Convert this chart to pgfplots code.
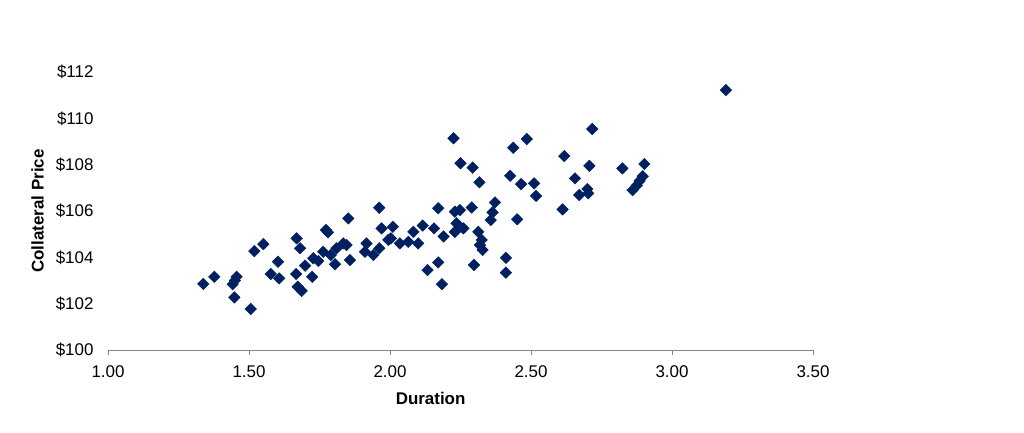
\documentclass[border=0pt]{standalone}
\usepackage{pgfplots}
\pgfplotsset{compat=1.18}
\usepackage{fontspec}
\setmainfont{Liberation Sans}
\definecolor{navy}{RGB}{0,32,96}
\definecolor{axgray}{RGB}{134,134,134}
\begin{document}
\begin{tikzpicture}[x=1bp,y=1bp]
\path[use as bounding box] (0,0) rectangle (1024,432);
\begin{axis}[
  at={(108bp,82bp)}, anchor=south west,
  scale only axis, width=705bp, height=278bp,
  xmin=1, xmax=3.5, ymin=100, ymax=112,
  xtick={1,1.5,...,3.5}, ytick={100,102,...,112},
  axis lines*=left,
  x axis line style={axgray, line width=0.8bp},
  y axis line style={draw=none},
  ytick style={draw=none},
  xtick style={axgray, line width=0.8bp},
  tick align=outside, major tick length=5bp,
  xticklabel style={/pgf/number format/fixed, /pgf/number format/fixed zerofill, /pgf/number format/precision=2, yshift=-7bp},
  yticklabel={\$\pgfmathprintnumber{\tick}},
  /pgf/number format/assume math mode=true,
  ticklabel style={font=\fontsize{17}{20}\selectfont},
  yticklabel style={xshift=-6bp},
  xlabel={\textbf{Duration}},
  ylabel={\textbf{Collateral Price}},
  label style={font=\fontsize{17}{20}\selectfont},
  xlabel style={at={(axis description cs:0.4576,-0.176)}, anchor=center},
  ylabel style={at={(axis description cs:-0.1,0.5)}, anchor=center},
  clip=false,
]
\addplot[only marks, mark=square*, mark size=4.1bp, mark options={rotate=45, fill=navy, draw=navy}] table {
x y
1.338 102.85
1.377 103.16
1.442 102.84
1.45 103.0
1.456 103.16
1.448 102.27
1.506 101.77
1.519 104.27
1.551 104.57
1.577 103.28
1.603 103.81
1.607 103.09
1.669 104.82
1.681 104.39
1.667 103.28
1.673 102.73
1.687 102.55
1.699 103.64
1.724 103.16
1.728 103.96
1.746 103.84
1.763 104.24
1.773 105.18
1.78 105.08
1.79 104.1
1.805 103.7
1.81 104.39
1.834 104.6
1.846 104.53
1.852 105.68
1.858 103.88
1.917 104.6
1.911 104.24
1.941 104.1
1.962 106.14
1.962 104.39
1.97 105.25
1.994 104.75
2.003 104.82
2.01 105.32
2.035 104.6
2.065 104.67
2.083 105.1
2.10 104.6
2.116 105.37
2.133 103.45
2.156 105.25
2.171 106.12
2.171 103.78
2.184 102.84
2.19 104.9
2.225 109.14
2.23 105.97
2.236 105.47
2.23 105.1
2.248 106.04
2.25 108.06
2.26 105.25
2.29 106.15
2.293 107.87
2.298 103.67
2.313 105.1
2.317 107.24
2.319 104.53
2.325 104.75
2.328 104.32
2.357 105.61
2.364 105.94
2.372 106.37
2.411 103.98
2.411 103.34
2.426 107.52
2.437 108.73
2.451 105.64
2.465 107.16
2.485 109.11
2.511 107.19
2.518 106.65
2.612 106.07
2.618 108.37
2.656 107.41
2.671 106.69
2.70 106.95
2.703 106.76
2.707 107.95
2.717 109.54
2.824 107.84
2.86 106.9
2.875 107.1
2.885 107.3
2.896 107.5
2.902 108.03
3.191 111.22
};
\end{axis}
\end{tikzpicture}
\end{document}
